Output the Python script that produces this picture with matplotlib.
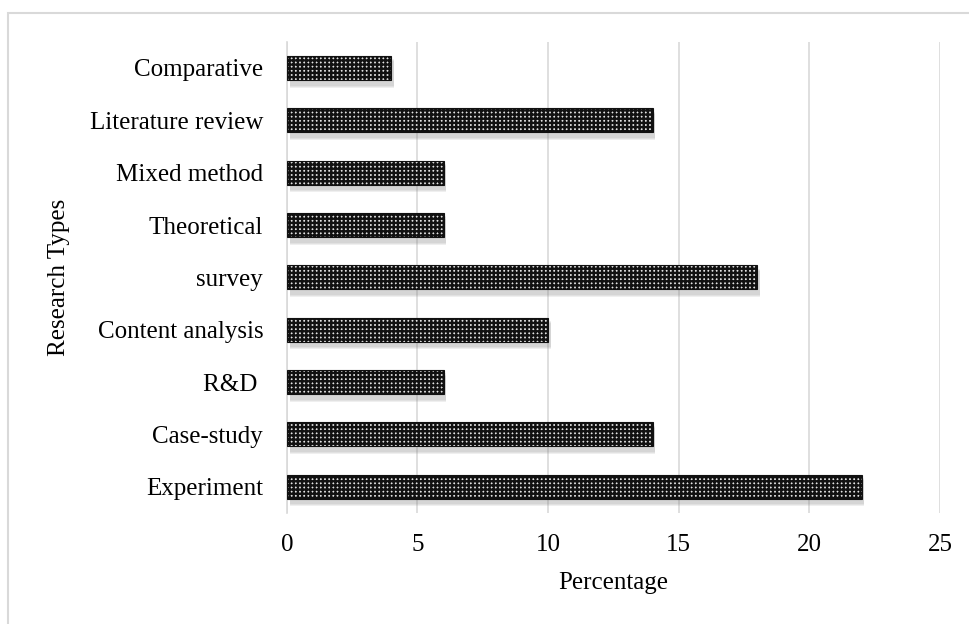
import matplotlib
matplotlib.use("Agg")
import matplotlib.pyplot as plt
import matplotlib.transforms as mtransforms
from matplotlib.patches import Rectangle

# Datos
categories = ["Experiment", "Case-study", "R&D ", "Content analysis", "survey",
              "Theoretical", "Mixed method", "Literature review", "Comparative"]
values = [22, 14, 6, 10, 18, 6, 6, 14, 4]
xticks = [0, 5, 10, 15, 20, 25]

plt.rcParams["font.family"] = ["Liberation Serif", "DejaVu Serif"]
plt.rcParams["hatch.linewidth"] = 1.7

fig = plt.figure(figsize=(9.69, 6.24), dpi=100)
ax = fig.add_axes([0.296, 0.178, 0.674, 0.755])

# Marco exterior gris
fig.patches.append(Rectangle((8 / 969, -0.1), 1.1, 1 - 13 / 624 + 0.1,
                             transform=fig.transFigure, fill=False,
                             edgecolor="#d9d9d9", linewidth=1.5))

ypos = range(len(categories))

# sombra: mismas barras desplazadas unos puntos
shadow_tr = mtransforms.offset_copy(ax.transData, fig=fig, x=2, y=-4, units="points")
for k in range(3):
    ax.barh(ypos, values, height=0.46 + 0.04 * k, color="#808080", alpha=0.12,
            linewidth=0, zorder=2, transform=shadow_tr)

ax.barh(ypos, values, height=0.46, color="#e2e2e2",
        edgecolor="#111111", linewidth=0.8, hatch="++++", zorder=3)

ax.set_xlim(0, 25)
ax.set_ylim(-0.5, len(categories) - 0.5)
ax.set_xticks(xticks)
ax.set_yticks(list(ypos))
ax.set_yticklabels(categories)
ax.tick_params(axis="both", length=0, labelsize=18, colors="#000000")
ax.tick_params(axis="x", pad=15)
ax.tick_params(axis="y", pad=17)

ax.grid(True, axis="x", color="#d9d9d9", linewidth=1.2, zorder=0)
for s in ["top", "right", "bottom"]:
    ax.spines[s].set_visible(False)
ax.spines["left"].set_color("#d9d9d9")
ax.spines["left"].set_linewidth(1.2)

ax.set_xlabel("Percentage", fontsize=18, labelpad=12)
ax.set_ylabel("Research Types", fontsize=18, labelpad=14)

fig.savefig("out.png", dpi=100)
